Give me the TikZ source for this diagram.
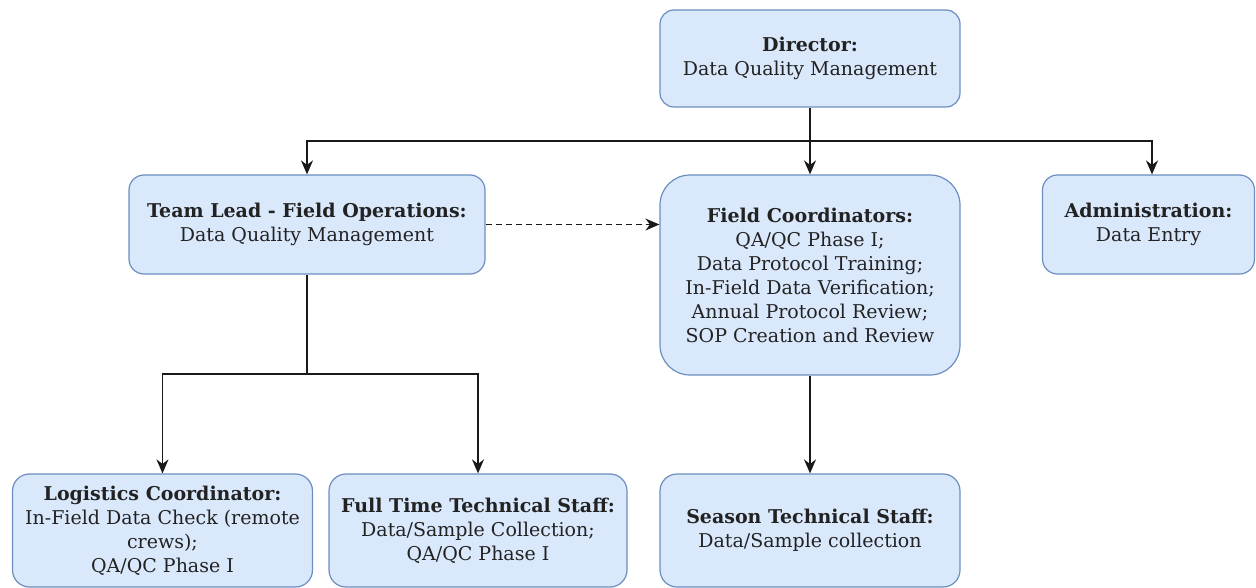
\documentclass[tikz,border=0pt]{standalone}
\usepackage{fontspec}
\setmainfont{DejaVu Serif}
\usetikzlibrary{arrows.meta}
\definecolor{boxfill}{HTML}{DAE8FC}
\definecolor{boxline}{HTML}{6C8EBF}
\definecolor{txt}{HTML}{222222}
\begin{document}
\begin{tikzpicture}[x=1pt,y=1pt,
  box/.style={draw=boxline, fill=boxfill, line width=1.2pt, align=center,
    text=txt, font=\fontsize{19}{24}\selectfont, inner sep=0pt},
  conn/.style={line width=1.7pt, draw=black!90, -{Stealth[length=14pt,width=12pt]}},
  dconn/.style={conn, dash pattern=on 6pt off 4pt}]
\useasboundingbox (0,0) rectangle (1256,-588);
\node[box, minimum width=300, minimum height=97, rounded corners=14]
  (dir) at (810,-58.5) {\textbf{Director:}\\Data Quality Management};
\node[box, minimum width=356, minimum height=99, rounded corners=15]
  (tl) at (307,-224.5) {\textbf{Team Lead - Field Operations:}\\Data Quality Management};
\node[box, minimum width=300, minimum height=200, rounded corners=30]
  (fc) at (810,-275) {\textbf{Field Coordinators:}\\QA/QC Phase I;\\Data Protocol Training;\\In-Field Data Verification;\\Annual Protocol Review;\\SOP Creation and Review};
\node[box, minimum width=212, minimum height=99, rounded corners=15]
  (adm) at (1148.5,-224.5) {\textbf{Administration:}\\Data Entry};
\node[box, minimum width=300, minimum height=113, rounded corners=17]
  (log) at (162.5,-530.5) {\textbf{Logistics Coordinator:}\\In-Field Data Check (remote\\crews);\\QA/QC Phase I};
\node[box, minimum width=298, minimum height=113, rounded corners=17]
  (fts) at (478,-530.5) {\textbf{Full Time Technical Staff:}\\Data/Sample Collection;\\QA/QC Phase I};
\node[box, minimum width=300, minimum height=113, rounded corners=17]
  (sts) at (810,-530.5) {\textbf{Season Technical Staff:}\\Data/Sample collection};
\coordinate (j1) at (810,-141);
\coordinate (j2) at (307,-374);
\draw[conn] (dir.south) -- (j1) -| (tl.north);
\draw[conn] (dir.south) -- (fc.north);
\draw[conn] (j1) -| ([xshift=3.5]adm.north);
\draw[dconn] (tl.east) -- (fc.west |- tl.east);
\draw[conn] (tl.south) -- (j2) -| (log.north);
\draw[conn] (j2) -| (fts.north);
\draw[conn] (fc.south) -- (sts.north);
\end{tikzpicture}
\end{document}
